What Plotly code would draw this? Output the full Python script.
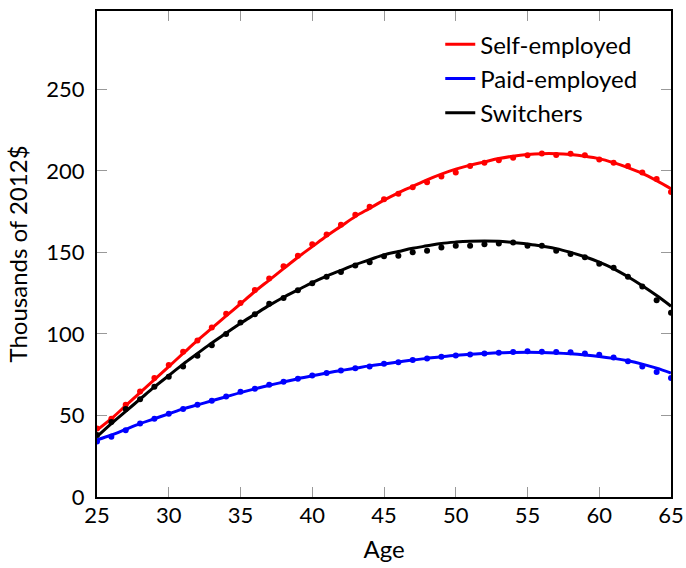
import plotly.graph_objects as go

ages = list(range(25, 66))

# Observed points (dots)
self_dots = [42, 48, 56.5, 64.7, 73, 81, 89, 96, 104, 112.4, 119, 127, 134, 141.5, 148, 155,
             161, 167, 173, 178, 182.5, 186, 190, 193, 196.5, 199, 203, 205, 206.5, 208, 209.6,
             210.7, 209.7, 210.5, 209.5, 207, 205, 203, 199, 195, 187]
paid_dots = [34, 37, 41, 45, 48, 51, 54, 56.5, 59, 61.6, 64.5, 66.3, 68.8, 70.6, 72.5, 74.5,
             76, 77.6, 79, 80, 81.7, 82.7, 84, 85, 86, 86.8, 87.4, 88, 88.4, 88.9, 89.3,
             89, 88.9, 88.7, 88, 87.2, 85.6, 83.3, 80, 76.6, 72.9]
switch_dots = [38, 46, 54, 60, 67.6, 73.7, 80, 86.6, 93, 100, 107, 112, 118.5, 122, 126.7, 131,
               135, 138, 142, 144, 147.6, 148, 150, 151, 153, 154, 154, 155, 155.4, 156, 154,
               154, 151, 149, 147, 143, 140.6, 135, 129, 120.6, 113]

# Fitted profiles (lines)
self_fit = [41, 48, 56, 64, 72, 80, 88, 96, 103.5, 111, 118.5, 126, 133, 140, 147, 153.5,
            160, 166, 172, 177, 182, 186.5, 190.5, 194.5, 198, 201, 203.5, 205.5, 207.5, 209, 210,
            210.5, 210.5, 210, 209, 207.5, 205, 202, 198.5, 194, 189]
paid_fit = [35, 38, 41.5, 45, 48, 51, 54, 56.5, 59, 61.5, 64, 66.3, 68.5, 70.5, 72.5, 74.3,
            76, 77.6, 79, 80.4, 81.6, 82.8, 84, 85, 86, 86.8, 87.5, 88, 88.4, 88.6, 88.7,
            88.6, 88.3, 87.8, 87.1, 86.2, 85, 83.5, 81.5, 79, 76]
switch_fit = [37, 45, 52.5, 60, 67.5, 74.5, 81.5, 88, 94.5, 100.5, 106.5, 112, 117.5, 122.5, 127, 131.5,
              135.5, 139, 142.5, 145.5, 148.5, 150.5, 152.5, 154, 155.5, 156.3, 156.8, 157, 156.8, 156, 155.2,
              153.8, 152.3, 150, 147.3, 144, 140, 135, 129.5, 123.5, 117]

series = [
    ("Self-employed", self_fit, self_dots, "#ff0000"),
    ("Paid-employed", paid_fit, paid_dots, "#0000ff"),
    ("Switchers", switch_fit, switch_dots, "#000000"),
]

x_ticks = [25, 30, 35, 40, 45, 50, 55, 60, 65]
y_ticks = [0, 50, 100, 150, 200, 250]

fig = go.Figure()
for name, fit, dots, col in series:
    fig.add_trace(go.Scatter(x=ages, y=dots, mode="markers", showlegend=False,
                             marker=dict(color=col, size=6), hoverinfo="skip"))
    fig.add_trace(go.Scatter(x=ages, y=fit, mode="lines", name=name,
                             line=dict(color=col, width=3, shape="spline")))

FONT = "Lato"
fig.update_layout(
    width=686, height=568,
    margin=dict(l=97, r=15, t=11, b=71, autoexpand=False),
    paper_bgcolor="white", plot_bgcolor="white",
    font=dict(family=FONT, size=22, color="black"),
    legend=dict(x=0.598, y=0.977, xanchor="left", yanchor="top",
                font=dict(size=24), bgcolor="rgba(0,0,0,0)",
                tracegroupgap=0, itemwidth=30),
    xaxis=dict(range=[25, 65], tickvals=x_ticks, ticks="inside", ticklen=10,
               tickcolor="#999999", tickwidth=1, showline=True, linecolor="black",
               linewidth=2, mirror="allticks", showgrid=False, zeroline=False,
               automargin=False, ticklabelstandoff=-2,
               tickfont=dict(size=22),
               title=dict(text="Age", font=dict(size=24), standoff=14)),
    yaxis=dict(range=[0, 298], tickvals=y_ticks, ticks="inside", ticklen=10,
               tickcolor="#999999", tickwidth=1, showline=True, linecolor="black",
               linewidth=2, mirror="allticks", showgrid=False, zeroline=False,
               automargin=False, ticklabelstandoff=6,
               tickfont=dict(size=22),
               title=dict(text="Thousands of 2012$", font=dict(size=24), standoff=12)),
)

fig.write_html("out.html")
